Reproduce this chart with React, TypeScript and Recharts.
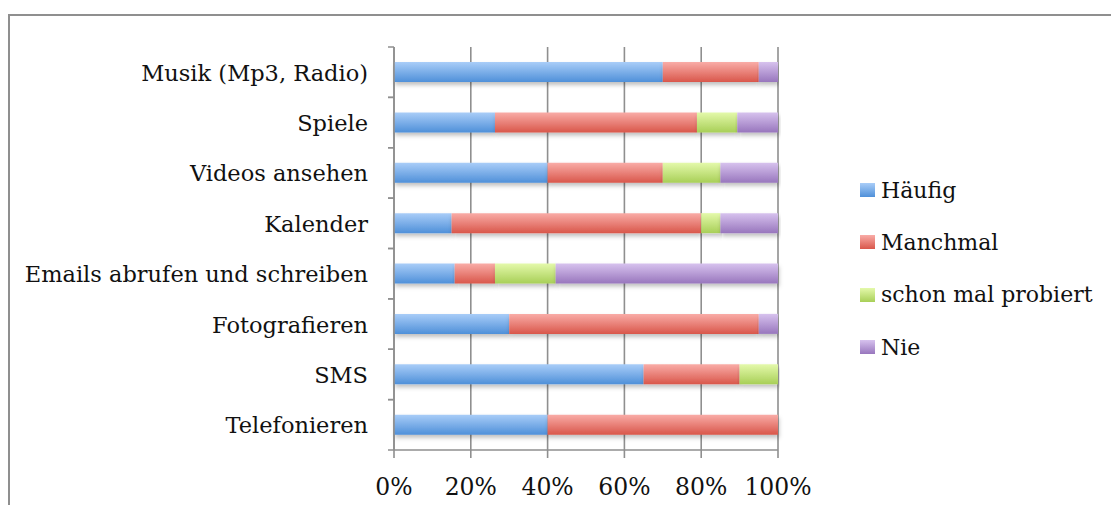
import { BarChart, Bar, XAxis, YAxis, CartesianGrid } from 'recharts';

const kategorien = [
  'Musik (Mp3, Radio)',
  'Spiele',
  'Videos ansehen',
  'Kalender',
  'Emails abrufen und schreiben',
  'Fotografieren',
  'SMS',
  'Telefonieren',
];
const haeufig = [70, 26.3, 40, 15, 15.8, 30, 65, 40];
const manchmal = [25, 52.6, 30, 65, 10.5, 65, 25, 60];
const probiert = [0, 10.5, 15, 5, 15.8, 0, 10, 0];
const nie = [5, 10.6, 15, 15, 57.9, 5, 0, 0];
const xTicks = [0, 20, 40, 60, 80, 100];

const serien = [
  { key: 'haeufig', name: 'Häufig', top: '#a9cdf8', bottom: '#4f90d9' },
  { key: 'manchmal', name: 'Manchmal', top: '#f9aca7', bottom: '#d9574b' },
  { key: 'probiert', name: 'schon mal probiert', top: '#e4f9ab', bottom: '#a8cf57' },
  { key: 'nie', name: 'Nie', top: '#d7c2ee', bottom: '#9876bd' },
];

const daten = kategorien.map((k, i) => ({
  kategorie: k,
  haeufig: haeufig[i],
  manchmal: manchmal[i],
  probiert: probiert[i],
  nie: nie[i],
}));

const schrift = '"DejaVu Serif", serif';
const grau = '#8f8f8f';

function KategorieTick(props: any) {
  const { x, y, payload } = props;
  const halb = payload && payload.offset ? payload.offset : 25.2;
  return (
    <g>
      <line x1={x - 6} x2={x} y1={y - halb} y2={y - halb} stroke={grau} strokeWidth={1.5} />
      <line x1={x - 6} x2={x} y1={y + halb} y2={y + halb} stroke={grau} strokeWidth={1.5} />
      <text
        x={x - 26}
        y={y}
        dy="0.38em"
        textAnchor="end"
        fontFamily={schrift}
        fontSize={22.5}
        fill="#111"
      >
        {payload.value}
      </text>
    </g>
  );
}

export default function App() {
  return (
    <div
      style={{
        position: 'relative',
        top: 6,
        width: 1111,
        height: 497,
        borderTop: `2px solid ${grau}`,
        borderLeft: `2px solid ${grau}`,
        boxSizing: 'border-box',
        background: '#fff',
      }}
    >
      <style>{'html,body{overflow:hidden}'}</style>
      <div style={{ position: 'absolute', left: 0, top: 0 }}>
        <BarChart
          width={1109}
          height={497}
          data={daten}
          layout="vertical"
          margin={{ top: 31, right: 341, bottom: 0, left: 0 }}
          barSize={20}
        >
          <defs>
            {serien.map((s) => (
              <linearGradient key={s.key} id={`grad-${s.key}`} x1="0" y1="0" x2="0" y2="1">
                <stop offset="0%" stopColor={s.top} />
                <stop offset="100%" stopColor={s.bottom} />
              </linearGradient>
            ))}
            <filter id="schatten" x="-5%" y="-30%" width="110%" height="190%">
              <feDropShadow dx="1" dy="3" stdDeviation="2" floodColor="#000" floodOpacity="0.25" />
            </filter>
          </defs>
          <CartesianGrid horizontal={false} stroke={grau} strokeWidth={1.6} />
          <XAxis
            type="number"
            domain={[0, 100]}
            ticks={xTicks}
            tickFormatter={(v) => `${v}%`}
            height={63}
            tickSize={8}
            tickMargin={20}
            axisLine={{ stroke: grau, strokeWidth: 1.6 }}
            tickLine={{ stroke: grau, strokeWidth: 1.6 }}
            tick={{ fontFamily: schrift, fontSize: 23.5, fill: '#111' }}
          />
          <YAxis
            type="category"
            dataKey="kategorie"
            width={384}
            tickSize={0}
            tickMargin={0}
            interval={0}
            axisLine={{ stroke: grau, strokeWidth: 1.6 }}
            tickLine={false}
            tick={<KategorieTick />}
          />
          {serien.map((s) => (
            <Bar
              key={s.key}
              dataKey={s.key}
              name={s.name}
              stackId="a"
              fill={`url(#grad-${s.key})`}
              filter="url(#schatten)"
              isAnimationActive={false}
            />
          ))}
        </BarChart>
      </div>
      <div
        style={{
          position: 'absolute',
          left: 850,
          top: 148,
          fontFamily: schrift,
          fontSize: 22,
          color: '#111',
        }}
      >
        {serien.map((s) => (
          <div key={s.key} style={{ display: 'flex', alignItems: 'center', height: 52.3 }}>
            <span
              style={{
                display: 'inline-block',
                width: 15,
                height: 14,
                marginRight: 6,
                background: `linear-gradient(${s.top}, ${s.bottom})`,
              }}
            />
            <span style={{ whiteSpace: 'nowrap' }}>{s.name}</span>
          </div>
        ))}
      </div>
    </div>
  );
}
